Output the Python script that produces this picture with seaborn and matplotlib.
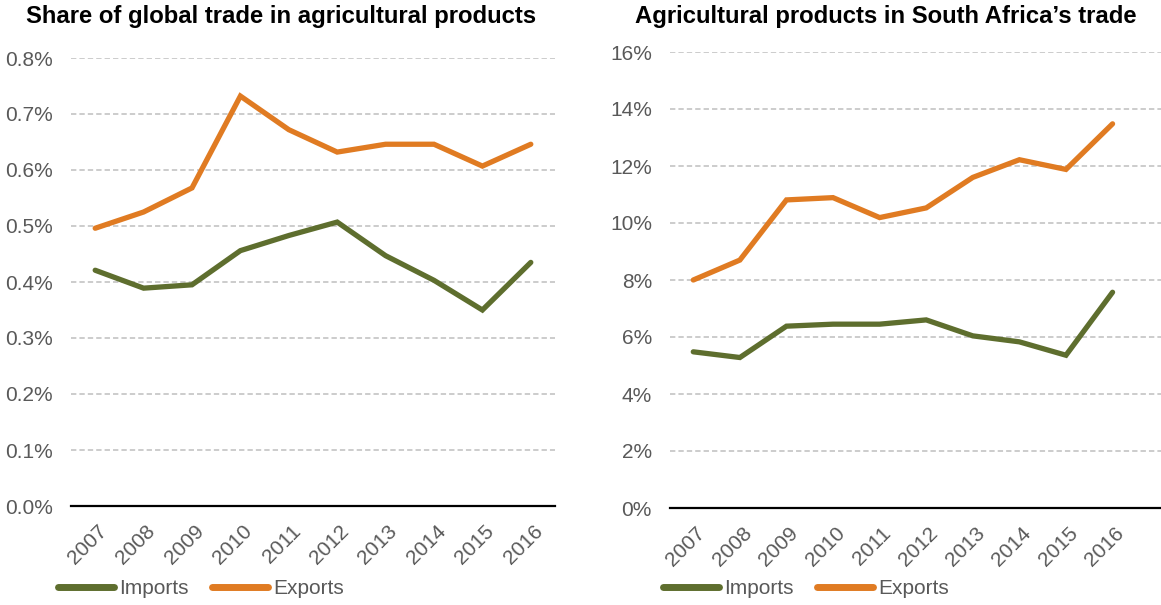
import matplotlib
matplotlib.use("Agg")
import matplotlib.pyplot as plt
import matplotlib.transforms as mtransforms
from matplotlib.ticker import FuncFormatter, MultipleLocator
from matplotlib.lines import Line2D
import seaborn as sns
import pandas as pd

years = ["2007", "2008", "2009", "2010", "2011", "2012", "2013", "2014", "2015", "2016"]

# Share of global trade in agricultural products (%)
global_imports = [0.421, 0.389, 0.395, 0.456, 0.483, 0.507, 0.447, 0.403, 0.350, 0.435]
global_exports = [0.496, 0.525, 0.568, 0.732, 0.672, 0.632, 0.646, 0.646, 0.607, 0.646]

# Agricultural products in South Africa's trade (%)
sa_imports = [5.48, 5.28, 6.38, 6.45, 6.45, 6.60, 6.04, 5.83, 5.36, 7.57]
sa_exports = [8.00, 8.70, 10.81, 10.89, 10.19, 10.53, 11.60, 12.22, 11.88, 13.48]

series_names = ["Imports", "Exports"]
titles = ["Share of global trade in agricultural products",
          "Agricultural products in South Africa\u2019s trade"]

IMP_COLOR = "#5E6E2E"
EXP_COLOR = "#E07B22"
palette = {"Imports": IMP_COLOR, "Exports": EXP_COLOR}
TEXT_COLOR = "#595959"


def long_frame(imports, exports):
    return pd.DataFrame({
        "year": years * 2,
        "value": list(imports) + list(exports),
        "series": ["Imports"] * len(years) + ["Exports"] * len(years),
    })


sns.set_theme(style="white")
plt.rcParams["font.family"] = ["Liberation Sans", "DejaVu Sans"]

fig = plt.figure(figsize=(11.61, 6.05), dpi=100)
W, H = 1161, 605

ax1 = fig.add_axes([71 / W, 1 - 506 / H, (555 - 71) / W, (506 - 58) / H])
ax2 = fig.add_axes([670 / W, 1 - 508 / H, (1161 - 670) / W, (508 - 52) / H])

panels = [
    (ax1, long_frame(global_imports, global_exports), (0, 0.8), 0.1,
     lambda v, p: f"{v:.1f}%", (-0.5, 9.5)),
    (ax2, long_frame(sa_imports, sa_exports), (0, 16), 2,
     lambda v, p: f"{v:.0f}%", (-0.5, 10.04)),
]

for ax, df, ylim, step, fmt, xlim in panels:
    sns.lineplot(data=df, x="year", y="value", hue="series", palette=palette,
                 hue_order=series_names, linewidth=3.8, ax=ax, legend=False,
                 sort=False)
    for ln in ax.lines:
        ln.set_solid_capstyle("round")
        ln.set_solid_joinstyle("miter")
    ax.set_ylim(*ylim)
    ax.set_xlim(*xlim)
    ax.yaxis.set_major_locator(MultipleLocator(step))
    ax.yaxis.set_major_formatter(FuncFormatter(fmt))
    ax.grid(axis="y", color="#BFBFBF", linestyle=(0, (3.5, 2)), linewidth=1.1)
    ax.grid(axis="x", visible=False)
    ax.set_axisbelow(True)
    for s in ["top", "right", "left"]:
        ax.spines[s].set_visible(False)
    ax.spines["bottom"].set_color("black")
    ax.spines["bottom"].set_linewidth(1.6)
    ax.spines["bottom"].set_zorder(1)
    ax.set_xlabel("")
    ax.set_ylabel("")
    ax.tick_params(axis="both", length=0, labelsize=15, labelcolor=TEXT_COLOR)
    ax.tick_params(axis="y", pad=13)
    ax.tick_params(axis="x", pad=11)
    offset = mtransforms.ScaledTranslation(2 / 100, 0, fig.dpi_scale_trans)
    for lab in ax.get_xticklabels():
        lab.set_rotation(45)
        lab.set_ha("right")
        lab.set_va("top")
        lab.set_rotation_mode("anchor")
        lab.set_transform(lab.get_transform() + offset)

fig.text(26 / W, 1 - 17 / H, titles[0], fontsize=17.2, fontweight="bold",
         color="black", va="center", ha="left")
fig.text(635 / W, 1 - 17 / H, titles[1], fontsize=17.2, fontweight="bold",
         color="black", va="center", ha="left")

handles = [Line2D([], [], color=palette[n], linewidth=5, solid_capstyle="round")
           for n in series_names]
for x0 in (58 / W, 663 / W):
    fig.legend(handles, series_names, loc="center left",
               bbox_to_anchor=(x0, 1 - 589 / H), ncol=2, frameon=False,
               fontsize=15, labelcolor=TEXT_COLOR, handlelength=2.7,
               handletextpad=0.25, columnspacing=1.1, borderaxespad=0,
               borderpad=0)

fig.savefig("out.png", dpi=100)
